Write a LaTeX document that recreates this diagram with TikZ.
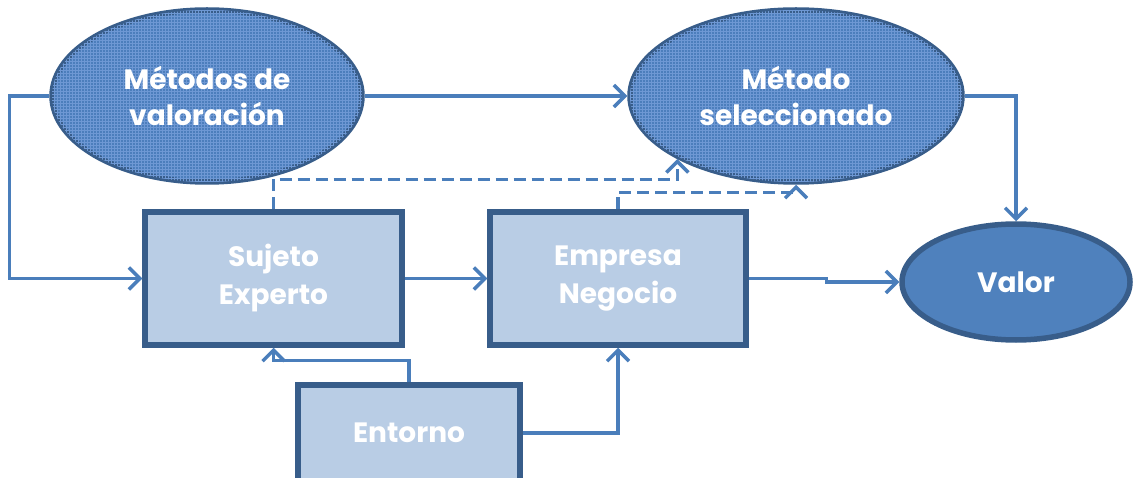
\documentclass[tikz,border=0pt]{standalone}
\usepackage{fontspec}
\setmainfont{Poppins}
\usetikzlibrary{shapes.geometric,arrows.meta,patterns}
\definecolor{edge}{RGB}{56,93,138}
\definecolor{conn}{RGB}{74,126,187}
\definecolor{ellfill}{RGB}{79,129,189}
\definecolor{patfill}{RGB}{76,126,188}
\definecolor{gridc}{RGB}{110,152,212}
\definecolor{boxfill}{RGB}{185,205,229}
\tikzset{
  ovalpat/.style={ellipse, draw=edge, line width=5.5pt, fill=patfill, inner sep=0pt,
    postaction={pattern=grid, pattern color=gridc},
    text=white, font=\fontsize{28}{36}\selectfont\bfseries, align=center},
  ovalplain/.style={ellipse, draw=edge, line width=5.5pt, fill=ellfill, inner sep=0pt,
    text=white, font=\fontsize{28}{36}\selectfont\bfseries, align=center},
  boxnode/.style={rectangle, draw=edge, line width=5.5pt, fill=boxfill, inner sep=0pt,
    text=white, font=\fontsize{28}{38}\selectfont\bfseries, align=center},
  conline/.style={draw=conn, line width=3.4pt, -{Straight Barb[length=11pt,width=22pt]}},
  dashline/.style={conline, dash pattern=on 12pt off 6pt}
}
\begin{document}
\begin{tikzpicture}[x=1pt,y=-1pt]
\useasboundingbox (0,0) rectangle (1134,478);
\node[ovalpat, minimum width=310, minimum height=172] (m1) at (207,96) {Métodos de\\valoración};
\node[ovalpat, minimum width=332, minimum height=172] (m2) at (796,96) {Método\\seleccionado};
\node[ovalplain, minimum width=228, minimum height=116] (valor) at (1016,282) {Valor};
\node[boxnode, minimum width=257, minimum height=133] (suj) at (273.5,278.5) {Sujeto\\Experto};
\node[boxnode, minimum width=256, minimum height=133] (emp) at (618,278.5) {Empresa\\Negocio};
\node[boxnode, minimum width=222, minimum height=96] (ent) at (409,433) {Entorno};

\draw[conline] (m1.west) -- ++(-40,0) |- (suj.west);
\draw[conline] (m1.east) -- (m2.west);
\draw[conline] (m2.east) -| (valor.north);
\draw[conline] (suj.east) -- (emp.west);
\draw[conline] (emp.east) -- ++(78,0) |- (valor.west);
\draw[conline] (ent.north) -- ++(0,-22) -| (suj.south);
\draw[conline] (ent.east) -| (emp.south);
\draw[dashline] (suj.north) -- ++(0,-30) -| (m2.208);
\draw[dashline] (emp.north) -- ++(0,-17) -| (m2.south);
\end{tikzpicture}
\end{document}
